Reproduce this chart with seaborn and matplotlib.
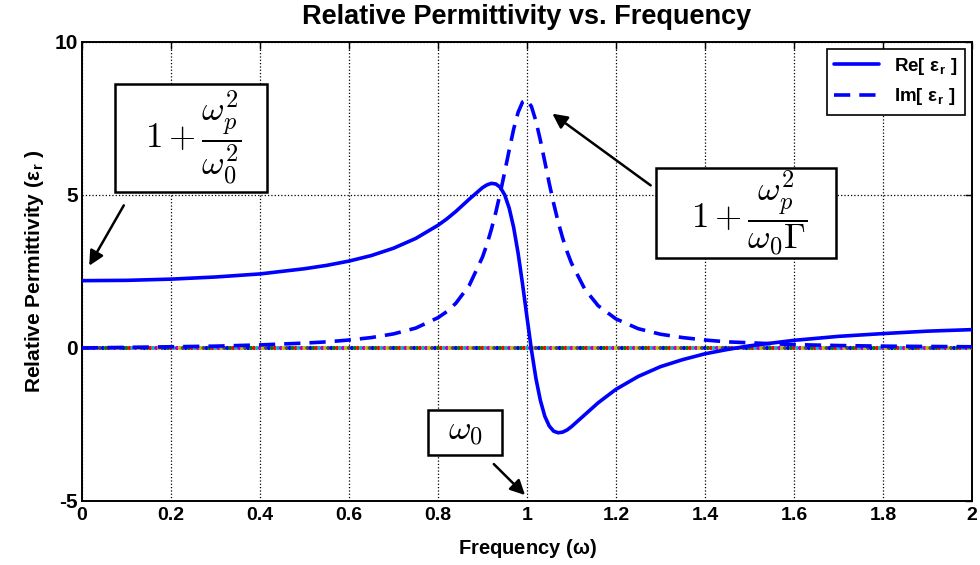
import numpy as np
import pandas as pd
import matplotlib.pyplot as plt
import seaborn as sns
from matplotlib.patches import Rectangle

# values
freq = [0.0, 0.1, 0.2, 0.3, 0.4, 0.5, 0.55, 0.6, 0.65, 0.7, 0.75, 0.8, 0.82, 0.84, 0.87,
        0.9, 0.91, 0.92, 0.93, 0.94, 0.95, 0.96, 0.97, 0.98, 0.99, 1.0, 1.01, 1.02, 1.03,
        1.04, 1.05, 1.06, 1.07, 1.08, 1.09, 1.1, 1.13, 1.16, 1.2, 1.25, 1.3, 1.35, 1.4,
        1.45, 1.5, 1.6, 1.7, 1.8, 1.9, 2.0]
eps_re = [2.20, 2.21, 2.25, 2.32, 2.42, 2.59, 2.70, 2.84, 3.02, 3.26, 3.58, 4.01, 4.22, 4.46, 4.86,
          5.24, 5.33, 5.38, 5.36, 5.25, 5.00, 4.57, 3.94, 3.10, 2.09, 1.00, -0.06, -0.99, -1.71,
          -2.23, -2.55, -2.72, -2.77, -2.75, -2.68, -2.57, -2.18, -1.79, -1.35, -0.93, -0.61, -0.38, -0.19,
          -0.05, 0.07, 0.25, 0.38, 0.47, 0.55, 0.60]
eps_im = [0.00, 0.02, 0.04, 0.06, 0.10, 0.16, 0.20, 0.26, 0.34, 0.46, 0.65, 0.99, 1.19, 1.46, 2.04,
          2.97, 3.39, 3.88, 4.44, 5.07, 5.76, 6.47, 7.15, 7.70, 8.04, 8.11, 7.89, 7.42, 6.79,
          6.09, 5.38, 4.72, 4.12, 3.60, 3.15, 2.77, 1.92, 1.38, 0.95, 0.63, 0.45, 0.34, 0.26,
          0.20, 0.17, 0.11, 0.08, 0.06, 0.05, 0.04]

# zero reference line drawn as coloured dots (matlab default colour order)
zero_x = np.linspace(0, 2, 301)
zero_y = np.zeros(301)
dot_colors = ['#0000ff', '#008000', '#ff0000', '#00bfbf', '#bf00bf', '#bfbf00', '#505050']

df = pd.DataFrame({'freq': freq, 're': eps_re, 'im': eps_im})
zdf = pd.DataFrame({'x': zero_x, 'y': zero_y, 'c': np.arange(301) % 7})

sns.set_theme(style='white')
plt.rcParams['font.family'] = ['Liberation Sans', 'DejaVu Sans']
plt.rcParams['mathtext.fontset'] = 'cm'
plt.rcParams['axes.unicode_minus'] = False
plt.rcParams['text.color'] = 'black'
plt.rcParams['axes.labelcolor'] = 'black'
plt.rcParams['xtick.color'] = 'black'
plt.rcParams['ytick.color'] = 'black'

fig = plt.figure(figsize=(9.8, 5.65), dpi=100)
ax = fig.add_axes([0.0837, 0.1133, 0.9081, 0.8124])

ax.grid(True, ls=':', color='black', lw=0.9)
sns.scatterplot(data=zdf, x='x', y='y', hue='c', palette=dot_colors, s=9, linewidth=0,
                legend=False, ax=ax, zorder=3)
sns.lineplot(data=df, x='freq', y='re', color='#0000ff', lw=2.6, ax=ax, zorder=4,
             label=r'Re[ ε$_\mathregular{r}$ ]')
sns.lineplot(data=df, x='freq', y='im', color='#0000ff', lw=2.6, ax=ax, zorder=4,
             label=r'Im[ ε$_\mathregular{r}$ ]')
ax.lines[-1].set_dashes((4.5, 2.5))

ax.set_xlim(0, 2)
ax.set_ylim(-5, 10)
ax.set_xticks(np.arange(0, 2.01, 0.2))
ax.set_xticklabels(['0', '0.2', '0.4', '0.6', '0.8', '1', '1.2', '1.4', '1.6', '1.8', '2'])
ax.set_yticks([-5, 0, 5, 10])
ax.tick_params(direction='in', top=True, right=True, length=5, width=1, color='black',
               labelsize=15, pad=3)
ax.tick_params(axis='x', labelsize=14, pad=4)
plt.setp(ax.get_xticklabels() + ax.get_yticklabels(), fontweight='bold')
for s in ax.spines.values():
    s.set_color('black')
    s.set_linewidth(1.4)

ax.set_title('Relative Permittivity vs. Frequency', fontsize=19.5, fontweight='bold', pad=13)
ax.set_xlabel(r'Frequency ($\mathregular{\omega}$)', fontsize=14.5, fontweight='bold', labelpad=10)
ax.set_ylabel(r'Relative Permittivity (ε$_\mathregular{r}$ )', fontsize=15, fontweight='bold',
              labelpad=6)

leg = ax.legend(loc='upper right', fancybox=False, edgecolor='black', framealpha=1,
                prop={'weight': 'bold', 'size': 13.5}, handlelength=2.4, borderaxespad=0.35)
leg.get_frame().set_linewidth(1.2)

# annotation boxes
for x0, y0, w, h in [(0.074, 5.10, 0.342, 3.53), (1.290, 2.94, 0.404, 2.94),
                     (0.778, -3.50, 0.166, 1.47)]:
    ax.add_patch(Rectangle((x0, y0), w, h, fc='white', ec='black', lw=1.8, zorder=6))
ax.text(0.25, 6.85, r'$1+\dfrac{\omega_p^2}{\omega_0^2}$', fontsize=25, ha='center',
        va='center', zorder=7)
ax.text(1.50, 4.42, r'$1+\dfrac{\omega_p^2}{\omega_0\Gamma}$', fontsize=25, ha='center',
        va='center', zorder=7)
ax.text(0.861, -2.72, r'$\omega_0$', fontsize=25, ha='center', va='center', zorder=7)

arrow = dict(arrowstyle='-|>', color='black', lw=1.8, mutation_scale=22)
ax.annotate('', xy=(0.013, 2.61), xytext=(0.097, 4.74), arrowprops=arrow, zorder=8)
ax.annotate('', xy=(1.052, 7.71), xytext=(1.283, 5.26), arrowprops=arrow, zorder=8)
ax.annotate('', xy=(1.0, -4.87), xytext=(0.921, -3.73), arrowprops=arrow, zorder=8)

fig.savefig('out.png', dpi=100)
